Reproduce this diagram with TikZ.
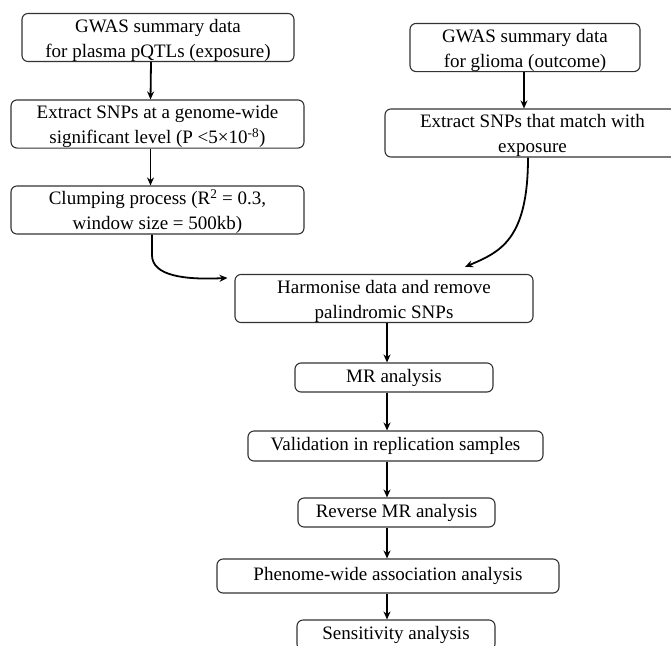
\documentclass[tikz,border=0pt]{standalone}
\usepackage{fontspec}
\setmainfont{Liberation Serif}
\usetikzlibrary{arrows.meta}

\begin{document}
\begin{tikzpicture}[x=1pt,y=-1pt,>={Stealth[length=8pt,width=7pt]},
  line width=0.6pt,font=\fontsize{19}{25}\selectfont,
  box/.style={draw=black!80,line width=1.1pt,rounded corners=6pt,align=center,inner sep=0pt},
  flow/.style={->,line width=1.8pt}]
  \clip (0,0) rectangle (671,645);

  % 左列: 暴露
  \node[box,minimum width=272pt,minimum height=47pt] (GE) at (158,37.5) {\rule{0pt}{19pt}GWAS summary data\\for plasma pQTLs (exposure)};
  \node[box,minimum width=293pt,minimum height=46pt] (SE) at (157.5,124) {\rule{0pt}{19pt}Extract SNPs at a genome-wide\\significant level (P <5×10\textsuperscript{-8})};
  \node[box,minimum width=293pt,minimum height=46pt] (CL) at (157.5,210) {\rule{0pt}{19pt}Clumping process (R\textsuperscript{2} = 0.3,\\window size = 500kb)};

  % 右列: 结局
  \node[box,minimum width=230pt,minimum height=47pt] (GO) at (525,47.5) {\rule{0pt}{19pt}GWAS summary data\\for glioma (outcome)};
  \node[box,minimum width=295pt,minimum height=46pt] (SO) at (532.5,133) {\rule{0pt}{19pt}Extract SNPs that match with\\exposure};

  % 中间主线
  \node[box,minimum width=298pt,minimum height=47pt] (H) at (384,298.5) {\rule{0pt}{19pt}Harmonise data and remove\\palindromic SNPs};
  \node[box,minimum width=198pt,minimum height=29pt] (MR) at (394,377.5) {MR analysis};
  \node[box,minimum width=295pt,minimum height=30pt] (V) at (395.5,446) {Validation in replication samples};
  \node[box,minimum width=197pt,minimum height=29pt] (R) at (396.5,512.5) {Reverse MR analysis};
  \node[box,minimum width=342pt,minimum height=34pt] (PW) at (388,576) {Phenome-wide association analysis};
  \node[box,minimum width=198pt,minimum height=30pt] (S) at (396,635) {Sensitivity analysis};

  \coordinate (col) at (387,0);

  % 箭头
  \draw[flow] ([xshift=-7pt]GE.south) -- ([xshift=-7pt]SE.north);
  \draw[flow] ([xshift=-7pt]SE.south) -- ([xshift=-7pt]CL.north);
  \draw[flow] ([xshift=-1pt]GO.south) -- ([xshift=-8.5pt]SO.north);

  \draw[flow] ([xshift=-5.5pt]CL.south) -- (152,255) .. controls (152,276) and (185,280) .. ([xshift=-7pt,yshift=-4pt]H.north west);
  \draw[flow] ([xshift=-4.5pt]SO.south) .. controls (528,240) and (500,252) .. ([xshift=81pt,yshift=7pt]H.north);

  \draw[flow] (H.south -| col) -- (MR.north -| col);
  \draw[flow] (MR.south -| col) -- (V.north -| col);
  \draw[flow] (V.south -| col) -- (R.north -| col);
  \draw[flow] (R.south -| col) -- (PW.north -| col);
  \draw[flow] (PW.south -| col) -- (S.north -| col);
\end{tikzpicture}
\end{document}
